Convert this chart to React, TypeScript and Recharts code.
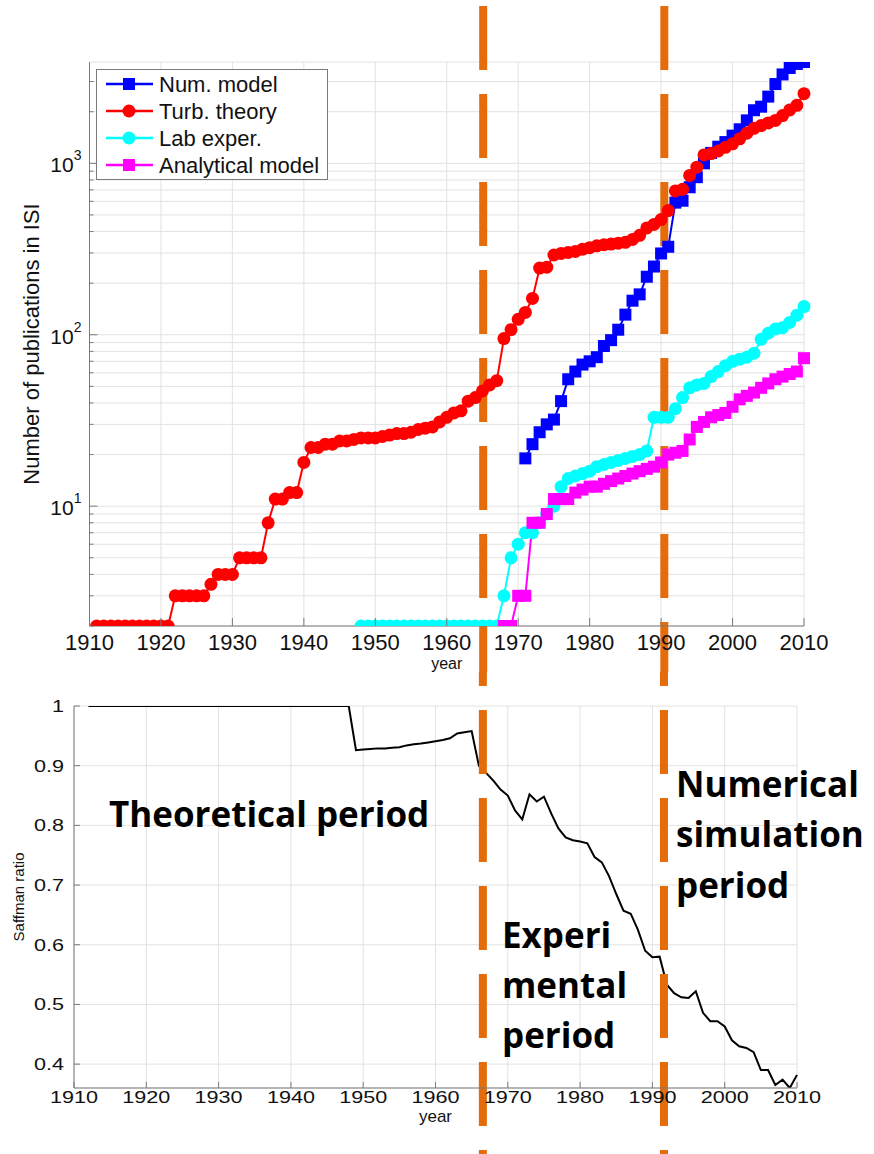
import React from 'react';
import { LineChart, Line, XAxis, YAxis, CartesianGrid, ReferenceLine } from 'recharts';

const SANS = '"Liberation Sans", Arial, Helvetica, sans-serif';
const BOLD_SANS = '"Open Sans", "Liberation Sans", sans-serif';
const AXIS_GRAY = '#7a7a7a';
const GRID_GRAY = '#e2e2e2';
const BREAK_ORANGE = '#E46C0A';

const NUM_BLUE = '#0000ff';
const TURB_RED = '#ff0000';
const LAB_CYAN = '#00ffff';
const ANA_MAGENTA = '#ff00ff';

// Cumulative publication counts, one value per year starting at the given year
const turbStart = 1911;
const turbTheory = [
  2, 2, 2, 2, 2, 2, 2, 2, 2, 2, 2,
  3, 3, 3, 3, 3, 3.5, 4, 4, 4,
  5, 5, 5, 5, 8, 11, 11, 12, 12, 18,
  22, 22, 23, 23, 24, 24, 24.5, 25, 25, 25,
  25.5, 26, 26.5, 26.5, 27, 28, 28.5, 29, 31, 33,
  35, 36, 41, 43, 47, 51, 54, 95, 107, 123,
  135, 163, 245, 248, 292, 298, 302, 306, 315, 322,
  330, 335, 338, 342, 346, 360, 380, 420, 440, 470,
  530, 690, 705, 850, 950, 1120, 1140, 1180, 1240, 1300,
  1390, 1500, 1600, 1660, 1720, 1780, 1900, 2050, 2180, 2550,
];

const numStart = 1971;
const numModel = [
  19, 23, 27, 30, 32, 41, 55, 61, 67, 70,
  74, 86, 93, 107, 131, 158, 172, 218, 250, 298,
  326, 590, 605, 725, 830, 1000, 1150, 1250, 1330, 1450,
  1580, 1780, 2040, 2140, 2450, 2900, 3300, 3600, 3800, 3900,
];

const labStart = 1948;
const labExper = [
  2, 2, 2, 2, 2, 2, 2, 2, 2, 2,
  2, 2, 2, 2, 2, 2, 2, 2, 2, 2,
  3, 5, 6, 7, 7, 8, 9, 10, 13, 14.5,
  15, 15.5, 16, 17, 17.5, 18, 18.5, 19, 19.5, 20,
  21, 33, 33, 33, 37, 43, 49, 51, 52, 57,
  61, 66, 70, 72, 74, 78, 94, 102, 108, 110,
  118, 130, 146,
];

const anaStart = 1968;
const analyticalModel = [
  2, 2, 3, 3, 8, 8, 9, 11, 11, 11,
  12, 12.5, 13, 13, 13.5, 14, 14.5, 15, 15.5, 16,
  16.5, 17, 18, 20, 20.5, 21, 24.5, 29, 31, 33,
  34, 35, 38, 42, 44, 46, 49, 52, 55, 57,
  59, 61, 73,
];

const pubYears = turbTheory.map((_, i) => turbStart + i);

// Saffman ratio per year
const saffmanStart = 1912;
const saffmanRatio = [
  1, 1, 1, 1, 1, 1, 1, 1, 1, 1,
  1, 1, 1, 1, 1, 1, 1, 1, 1, 1,
  1, 1, 1, 1, 1, 1, 1, 1, 1, 1,
  1, 1, 1, 1, 1, 1, 1,
  0.926, 0.927, 0.928, 0.929, 0.929, 0.93, 0.931, 0.934, 0.936, 0.937,
  0.939, 0.941, 0.943, 0.946, 0.954, 0.956, 0.958, 0.9, 0.888, 0.875,
  0.86, 0.85, 0.825, 0.81, 0.852, 0.84, 0.848, 0.82, 0.795, 0.78,
  0.775, 0.773, 0.77, 0.747, 0.738, 0.715, 0.685, 0.657, 0.652, 0.625,
  0.59, 0.579, 0.58, 0.533, 0.519, 0.512, 0.511, 0.522, 0.486, 0.472,
  0.472, 0.463, 0.44, 0.43, 0.427, 0.42, 0.39, 0.39, 0.365, 0.374,
  0.36, 0.382,
];

const yearTicks = [1910, 1920, 1930, 1940, 1950, 1960, 1970, 1980, 1990, 2000, 2010];
const logTicks = [
  2, 3, 4, 5, 6, 7, 8, 9,
  10, 20, 30, 40, 50, 60, 70, 80, 90,
  100, 200, 300, 400, 500, 600, 700, 800, 900,
  1000, 2000, 3000,
];
const logMajor = [10, 100, 1000];
const ratioTicks = [0.4, 0.5, 0.6, 0.7, 0.8, 0.9, 1];

// period boundaries (year positions in each panel)
const topBreaks = [1965.1, 1990.45];
const bottomBreaks = [1966.55, 1991.6];

const legendItems = [
  { name: 'Num. model', color: NUM_BLUE, marker: 'square' },
  { name: 'Turb. theory', color: TURB_RED, marker: 'circle' },
  { name: 'Lab exper.', color: LAB_CYAN, marker: 'circle' },
  { name: 'Analytical model', color: ANA_MAGENTA, marker: 'square' },
];

const valueAt = (arr: number[], start: number, year: number) => {
  const i = year - start;
  return i >= 0 && i < arr.length ? arr[i] : null;
};

const pubData = pubYears.map((year) => ({
  year,
  num: valueAt(numModel, numStart, year),
  turb: valueAt(turbTheory, turbStart, year),
  lab: valueAt(labExper, labStart, year),
  ana: valueAt(analyticalModel, anaStart, year),
}));

const ratioData = saffmanRatio.map((ratio, i) => ({ year: saffmanStart + i, ratio }));

const squareDot = (color: string) => (p: any) => {
  if (p.cx == null || p.cy == null || p.value == null) return <g key={`s-${p.index}`} />;
  return <rect key={`s-${p.index}`} x={p.cx - 6} y={p.cy - 6} width={12} height={12} fill={color} />;
};

const circleDot = (color: string) => (p: any) => {
  if (p.cx == null || p.cy == null || p.value == null) return <g key={`c-${p.index}`} />;
  return <circle key={`c-${p.index}`} cx={p.cx} cy={p.cy} r={6.5} fill={color} />;
};

// orange dashed period separator, running the full height of the panel
const breakShape = (y0: number, y1: number, phase: number) => (p: any) => (
  <line
    x1={p.x1}
    x2={p.x1}
    y1={y0}
    y2={y1}
    stroke={BREAK_ORANGE}
    strokeWidth={8}
    strokeDasharray="64 24"
    strokeDashoffset={phase}
  />
);

// inward tick marks (MATLAB style); labels may be stretched horizontally
const bottomTick = (len: number, fontSize: number, gap: number, stretch: number) => (p: any) => (
  <g>
    <line x1={p.x} x2={p.x} y1={p.y} y2={p.y - len} stroke={AXIS_GRAY} />
    <text
      transform={`translate(${p.x} ${p.y + gap}) scale(${stretch} 1)`}
      textAnchor="middle"
      fontSize={fontSize}
      fontFamily={SANS}
      fill="#111"
    >
      {p.payload.value}
    </text>
  </g>
);

const topTick = (len: number) => (p: any) => (
  <line x1={p.x} x2={p.x} y1={p.y} y2={p.y + len} stroke={AXIS_GRAY} />
);

const LogTick = (p: any) => {
  const v = p.payload.value;
  const major = logMajor.includes(v);
  return (
    <g>
      <line x1={p.x} x2={p.x + (major ? 8 : 4)} y1={p.y} y2={p.y} stroke={AXIS_GRAY} />
      {major && (
        <text x={p.x - 8} y={p.y + 9} textAnchor="end" fontSize={21} fontFamily={SANS} fill="#111">
          10
          <tspan dy={-12} fontSize={14}>{Math.round(Math.log10(v))}</tspan>
        </text>
      )}
    </g>
  );
};

const LogTickRight = (p: any) => {
  const major = logMajor.includes(p.payload.value);
  return <line x1={p.x} x2={p.x - (major ? 8 : 4)} y1={p.y} y2={p.y} stroke={AXIS_GRAY} />;
};

const RatioTick = (p: any) => (
  <g>
    <line x1={p.x} x2={p.x + 6} y1={p.y} y2={p.y} stroke={AXIS_GRAY} />
    <text
      transform={`translate(${p.x - 10} ${p.y + 6}) scale(1.35 1)`}
      textAnchor="end"
      fontSize={16}
      fontFamily={SANS}
      fill="#111"
    >
      {p.payload.value === 1 ? '1' : p.payload.value.toFixed(1)}
    </text>
  </g>
);

const RatioTickRight = (p: any) => (
  <line x1={p.x} x2={p.x - 6} y1={p.y} y2={p.y} stroke={AXIS_GRAY} />
);

const PubLegend = () => (
  <svg width={874} height={200} style={{ position: 'absolute', left: 0, top: 0, pointerEvents: 'none' }}>
    <rect x={96.5} y={69.5} width={231} height={110} fill="#fff" stroke={AXIS_GRAY} />
    {legendItems.map((item, i) => {
      const cy = 84 + i * 27;
      return (
        <g key={item.name}>
          <line x1={106} x2={153} y1={cy} y2={cy} stroke={item.color} strokeWidth={2.5} />
          {item.marker === 'square' ? (
            <rect x={123} y={cy - 6} width={12} height={12} fill={item.color} />
          ) : (
            <circle cx={129} cy={cy} r={6.5} fill={item.color} />
          )}
          <text x={159} y={cy + 8} fontSize={22} fontFamily={SANS} fill="#111">{item.name}</text>
        </g>
      );
    })}
  </svg>
);

const PeriodLabels = () => (
  <svg width={874} height={1154} style={{ position: 'absolute', left: 0, top: 0, pointerEvents: 'none' }}>
    <g fontFamily={BOLD_SANS} fontWeight={700} fontSize={35} fill="#000">
      <text x={109} y={827}>Theoretical period</text>
      <text x={676} y={797}>Numerical</text>
      <text x={676} y={847}>simulation</text>
      <text x={676} y={898}>period</text>
      <text x={502} y={948}>Experi</text>
      <text x={502} y={998}>mental</text>
      <text x={502} y={1048}>period</text>
    </g>
  </svg>
);

export default function App() {
  return (
    <div style={{ position: 'absolute', left: 0, top: 0, width: 874, height: 1154, background: '#fff', overflow: 'hidden', fontFamily: SANS }}>
      <div style={{ position: 'absolute', left: 0, top: 0, width: 874, height: 672, overflow: 'hidden' }}>
        <LineChart width={874} height={700} data={pubData} margin={{ top: 62, right: 70, bottom: 0, left: 0 }}>
          <CartesianGrid stroke={GRID_GRAY} />
          <XAxis
            dataKey="year"
            type="number"
            domain={[1910, 2010]}
            ticks={yearTicks}
            interval={0}
            height={74}
            tickSize={0}
            tickMargin={0}
            tickLine={false}
            axisLine={{ stroke: AXIS_GRAY }}
            tick={bottomTick(8, 22, 24, 1)}
            label={{ value: 'year', position: 'insideBottom', offset: 31, fill: '#111', fontSize: 16, fontFamily: SANS }}
          />
          <XAxis
            xAxisId="top"
            orientation="top"
            dataKey="year"
            type="number"
            domain={[1910, 2010]}
            ticks={yearTicks}
            interval={0}
            height={0}
            tickSize={0}
            tickMargin={0}
            tickLine={false}
            axisLine={{ stroke: AXIS_GRAY }}
            tick={topTick(8)}
          />
          <YAxis
            scale="log"
            domain={[2, 3900]}
            allowDataOverflow
            ticks={logTicks}
            interval={0}
            width={89.5}
            tickSize={0}
            tickMargin={0}
            tickLine={false}
            axisLine={{ stroke: AXIS_GRAY }}
            tick={LogTick}
            label={{
              content: () => (
                <text x={31} y={344} transform="rotate(-90 31 344)" textAnchor="middle" dominantBaseline="central" fontSize={22} fontFamily={SANS} fill="#111">
                  Number of publications in ISI
                </text>
              ),
            }}
          />
          <YAxis
            yAxisId="right"
            orientation="right"
            scale="log"
            domain={[2, 3900]}
            allowDataOverflow
            ticks={logTicks}
            interval={0}
            width={0}
            tickSize={0}
            tickMargin={0}
            tickLine={false}
            axisLine={{ stroke: AXIS_GRAY }}
            tick={LogTickRight}
          />
          <Line type="linear" dataKey="num" stroke={NUM_BLUE} strokeWidth={2} dot={squareDot(NUM_BLUE)} activeDot={false} isAnimationActive={false} />
          <Line type="linear" dataKey="turb" stroke={TURB_RED} strokeWidth={2} dot={circleDot(TURB_RED)} activeDot={false} isAnimationActive={false} />
          <Line type="linear" dataKey="lab" stroke={LAB_CYAN} strokeWidth={2} dot={circleDot(LAB_CYAN)} activeDot={false} isAnimationActive={false} />
          <Line type="linear" dataKey="ana" stroke={ANA_MAGENTA} strokeWidth={2} dot={squareDot(ANA_MAGENTA)} activeDot={false} isAnimationActive={false} />
          {topBreaks.map((yr) => (
            <ReferenceLine key={yr} x={yr} ifOverflow="visible" shape={breakShape(6, 700, 0)} />
          ))}
        </LineChart>
        <PubLegend />
      </div>

      <div style={{ position: 'absolute', left: 0, top: 672, width: 874, height: 482, overflow: 'hidden', background: '#fff' }}>
        <LineChart width={874} height={482} data={ratioData} margin={{ top: 34, right: 77, bottom: 0, left: 0 }}>
          <CartesianGrid stroke={GRID_GRAY} />
          <XAxis
            dataKey="year"
            type="number"
            domain={[1910, 2010]}
            ticks={yearTicks}
            interval={0}
            height={66}
            tickSize={0}
            tickMargin={0}
            tickLine={false}
            axisLine={{ stroke: AXIS_GRAY }}
            tick={bottomTick(6, 16, 15, 1.35)}
            label={{ value: 'year', position: 'insideBottom', offset: 32, fill: '#111', fontSize: 17, fontFamily: SANS }}
          />
          <XAxis
            xAxisId="top"
            orientation="top"
            dataKey="year"
            type="number"
            domain={[1910, 2010]}
            ticks={yearTicks}
            interval={0}
            height={0}
            tickSize={0}
            tickMargin={0}
            tickLine={false}
            axisLine={{ stroke: AXIS_GRAY }}
            tick={topTick(6)}
          />
          <YAxis
            domain={[0.36, 1]}
            allowDataOverflow
            ticks={ratioTicks}
            interval={0}
            width={74}
            tickSize={0}
            tickMargin={0}
            tickLine={false}
            axisLine={{ stroke: AXIS_GRAY }}
            tick={RatioTick}
            label={{
              content: () => (
                <text x={18} y={225} transform="rotate(-90 18 225)" textAnchor="middle" dominantBaseline="central" fontSize={15} fontFamily={SANS} fill="#111">
                  Saffman ratio
                </text>
              ),
            }}
          />
          <YAxis
            yAxisId="right"
            orientation="right"
            domain={[0.36, 1]}
            allowDataOverflow
            ticks={ratioTicks}
            interval={0}
            width={0}
            tickSize={0}
            tickMargin={0}
            tickLine={false}
            axisLine={{ stroke: AXIS_GRAY }}
            tick={RatioTickRight}
          />
          <Line type="linear" dataKey="ratio" stroke="#000" strokeWidth={2} dot={false} activeDot={false} isAnimationActive={false} />
          {bottomBreaks.map((yr) => (
            <ReferenceLine key={yr} x={yr} ifOverflow="visible" shape={breakShape(0, 482, 50)} />
          ))}
        </LineChart>
      </div>

      <PeriodLabels />
    </div>
  );
}
